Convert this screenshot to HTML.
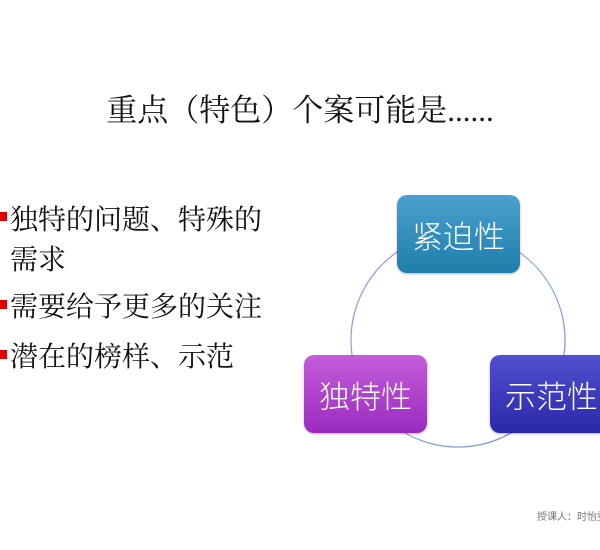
<!DOCTYPE html>
<html><head><meta charset="utf-8"><style>
body{margin:0;width:600px;height:550px;background:#fff;overflow:hidden;position:relative;font-family:"Liberation Serif","Noto Serif CJK SC",serif}
.t{position:absolute;left:0;width:600px;top:93px;text-align:center;font-size:31px;color:#111;line-height:36px}
.b{position:absolute;left:10px;font-size:28px;color:#111;white-space:nowrap;line-height:34px}
.sq{position:absolute;left:0;width:7px;height:9px;background:#e00000}
.box{position:absolute;width:123px;height:78px;border-radius:10px;color:#fff;font-size:31px;display:flex;align-items:center;justify-content:center;box-shadow:0 1px 2px rgba(0,0,0,.3);font-family:"Liberation Sans","Noto Sans CJK SC",sans-serif;font-weight:300}
.f{position:absolute;left:537px;top:508px;font-size:10px;color:#777;white-space:nowrap;font-family:"Liberation Sans","Noto Sans CJK SC",sans-serif}
</style></head><body>
<div class="t">重点（特色）个案可能是......</div>
<div class="sq" style="top:212px"></div><div class="b" style="top:204px">独特的问题、特殊的</div>
<div class="b" style="top:244px">需求</div>
<div class="sq" style="top:300px"></div><div class="b" style="top:291px">需要给予更多的关注</div>
<div class="sq" style="top:350px"></div><div class="b" style="top:341px">潜在的榜样、示范</div>
<svg width="600" height="550" style="position:absolute;left:0;top:0">
<defs><linearGradient id="g" x1="0" y1="0" x2="1" y2="1"><stop offset="0" stop-color="#c080d8"/><stop offset="0.5" stop-color="#90b8d8"/><stop offset="1" stop-color="#8080e0"/></linearGradient></defs>
<circle cx="458" cy="340" r="107" fill="none" stroke="url(#g)" stroke-width="1.3"/>
</svg>
<div class="box" style="left:397px;top:195px;background:linear-gradient(#4aa0d0,#1f7eaa)">紧迫性</div>
<div class="box" style="left:304px;top:355px;background:linear-gradient(#c45cd8,#9a2cc0)">独特性</div>
<div class="box" style="left:490px;top:355px;background:linear-gradient(#5050d0,#2828a8)">示范性</div>
<div class="f">授课人：时怡雯</div>
</body></html>
